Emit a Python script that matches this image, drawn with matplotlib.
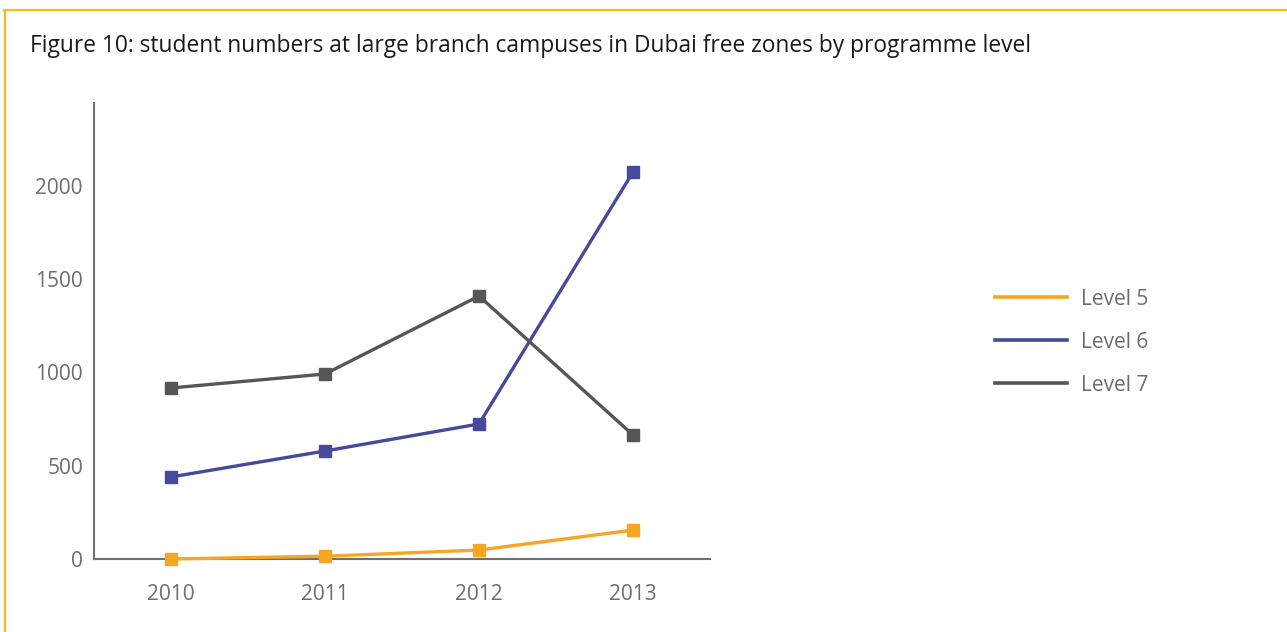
import matplotlib
matplotlib.use("Agg")
import matplotlib.pyplot as plt
from matplotlib.lines import Line2D

years = ["2010", "2011", "2012", "2013"]
level5 = [0, 15, 48, 155]
level6 = [440, 579, 724, 2075]
level7 = [917, 992, 1410, 665]
series_names = ["Level 5", "Level 6", "Level 7"]
colors = ["#F6A623", "#464A9A", "#565656"]
yticks = [0, 500, 1000, 1500, 2000]
title = "Figure 10: student numbers at large branch campuses in Dubai free zones by programme level"

plt.rcParams['font.family'] = ['Open Sans', 'DejaVu Sans']

W, H = 1287, 632
fig = plt.figure(figsize=(W / 100, H / 100), dpi=100)

# border (top & left)
fig.add_artist(Line2D([4 / W, 1], [1 - 10 / H, 1 - 10 / H], color="#F9BC15", lw=1.6))
fig.add_artist(Line2D([5 / W, 5 / W], [0, 1 - 10 / H], color="#F9BC15", lw=1.6))

fig.text(30 / W, 1 - 46 / H, title, fontsize=16.4, color="#1a1a1a", va="center", ha="left")

ax = fig.add_axes([94 / W, 1 - 559 / H, (710 - 94) / W, (559 - 103) / H])
x = list(range(len(years)))
for vals, c, name in zip([level5, level6, level7], colors, series_names):
    ax.plot(x, vals, color=c, lw=2.4, marker="s", markersize=8.5, label=name,
            solid_joinstyle="miter", clip_on=False, zorder=5)

ax.set_xlim(-0.5, 3.5)
ax.set_ylim(0, 2445)
ax.set_xticks(x)
ax.set_xticklabels(years)
ax.set_yticks(yticks)
ax.set_yticklabels([str(t) for t in yticks])
ax.tick_params(axis="both", length=0, labelsize=15, colors="#6d6d6d")
ax.tick_params(axis="x", pad=18)
ax.tick_params(axis="y", pad=8)
for s in ["top", "right"]:
    ax.spines[s].set_visible(False)
for s in ["left", "bottom"]:
    ax.spines[s].set_color("#707070")
    ax.spines[s].set_linewidth(1.5)
    ax.spines[s].set_zorder(1)

handles = [Line2D([], [], color=c, lw=2.6) for c in colors]
leg = fig.legend(handles, series_names, loc="upper left",
                 bbox_to_anchor=(976 / W, 1 - 270 / H), frameon=False,
                 fontsize=15, handlelength=3.45, handletextpad=0.68, labelspacing=1.05)
for t in leg.get_texts():
    t.set_color("#6d6d6d")

fig.savefig("out.png", dpi=100)
